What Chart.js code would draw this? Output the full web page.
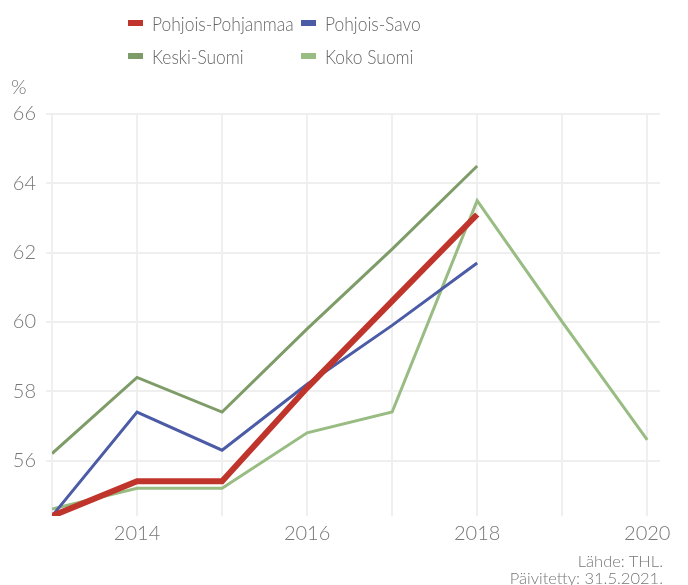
<!DOCTYPE html>
<html>
<head>
<meta charset="utf-8">
<script src="https://cdn.jsdelivr.net/npm/chart.js@4/dist/chart.umd.min.js"></script>
<style>
  html, body { margin: 0; padding: 0; background: #fff; }
  #wrap { position: relative; width: 688px; height: 585px; font-family: Lato, "Open Sans", sans-serif; font-weight: 300; }
  canvas { position: absolute; left: 0; top: 0; }
  .lg { position: absolute; height: 24px; line-height: 24px; font-size: 20px; color: #666; white-space: nowrap; transform: scaleX(0.87); transform-origin: 0 50%; }
  .sw { position: absolute; width: 15px; height: 6px; }
  .pct { position: absolute; left: 11px; top: 74px; font-size: 20px; color: #777; }
  .foot { position: absolute; right: 25px; font-size: 16.5px; color: #777; text-align: right; line-height: 17px; }
</style>
</head>
<body>
<div id="wrap">
  <canvas id="c" width="688" height="585"></canvas>
  <div id="legend"></div>
  <div class="pct">%</div>
  <div class="foot" style="top:553px;">Lähde: THL.</div>
  <div class="foot" style="top:570px;">Päivitetty: 31.5.2021.</div>
</div>
<script>
const years = [2013, 2014, 2015, 2016, 2017, 2018, 2019, 2020];
const seriesNames = ["Pohjois-Pohjanmaa", "Pohjois-Savo", "Keski-Suomi", "Koko Suomi"];
const pohjoisPohjanmaa = [54.4, 55.4, 55.4, 58.1, 60.6, 63.1, null, null];
const pohjoisSavo = [54.4, 57.4, 56.3, 58.2, 59.9, 61.7, null, null];
const keskiSuomi = [56.2, 58.4, 57.4, 59.8, 62.1, 64.5, null, null];
const kokoSuomi = [54.6, 55.2, 55.2, 56.8, 57.4, 63.5, 60.0, 56.6];
const yTicks = [56, 58, 60, 62, 64, 66];
const xLabelYears = [2014, 2016, 2018, 2020];

const colors = ["#c0352b", "#4b5ba6", "#7e9c68", "#98bc82"];
const widths = [6, 3, 3, 3];
const values = [pohjoisPohjanmaa, pohjoisSavo, keskiSuomi, kokoSuomi];

// HTML legend in a 2x2 grid
const legendPos = [[128, 11], [301, 11], [128, 44], [301, 44]];
const lg = document.getElementById('legend');
seriesNames.forEach((n, i) => {
  const [x, y] = legendPos[i];
  const sw = document.createElement('div');
  sw.className = 'sw';
  sw.style.left = x + 'px';
  sw.style.top = (y + 9) + 'px';
  sw.style.background = colors[i];
  lg.appendChild(sw);
  const t = document.createElement('div');
  t.className = 'lg';
  t.style.left = (x + 24) + 'px';
  t.style.top = y + 'px';
  t.textContent = n;
  lg.appendChild(t);
});

const datasets = seriesNames.map((n, i) => ({
  label: n,
  data: years.map((yr, k) => ({ x: yr, y: values[i][k] })),
  borderColor: colors[i],
  backgroundColor: colors[i],
  borderWidth: widths[i],
  pointRadius: 0,
  tension: 0,
  spanGaps: false,
  order: i === 0 ? 0 : 1
}));

new Chart(document.getElementById('c'), {
  type: 'line',
  data: { datasets },
  options: {
    responsive: false,
    animation: false,
    layout: { padding: { top: 114, right: 28, bottom: 0, left: 0 } },
    plugins: { legend: { display: false }, tooltip: { enabled: false } },
    scales: {
      x: {
        type: 'linear',
        min: 2013,
        max: 2020.15,
        afterBuildTicks: s => { s.ticks = years.map(v => ({ value: v })); },
        afterFit: s => { s.height = 69; },
        border: { display: false },
        grid: { color: '#efefef', lineWidth: 2, drawTicks: false },
        ticks: {
          padding: 6,
          color: '#777',
          font: { family: 'Lato', size: 20, weight: 300 },
          maxRotation: 0,
          autoSkip: false,
          callback: v => xLabelYears.includes(v) ? String(v) : ''
        }
      },
      y: {
        min: 54.4,
        max: 66,
        afterBuildTicks: s => { s.ticks = yTicks.map(v => ({ value: v })); },
        afterFit: s => { s.width = 52; },
        border: { display: false },
        grid: { color: '#efefef', lineWidth: 2, drawTicks: true, tickLength: 6 },
        ticks: {
          padding: 10,
          color: '#777',
          font: { family: 'Lato', size: 20, weight: 300 },
          callback: v => String(v)
        }
      }
    }
  }
});
</script>
</body>
</html>
